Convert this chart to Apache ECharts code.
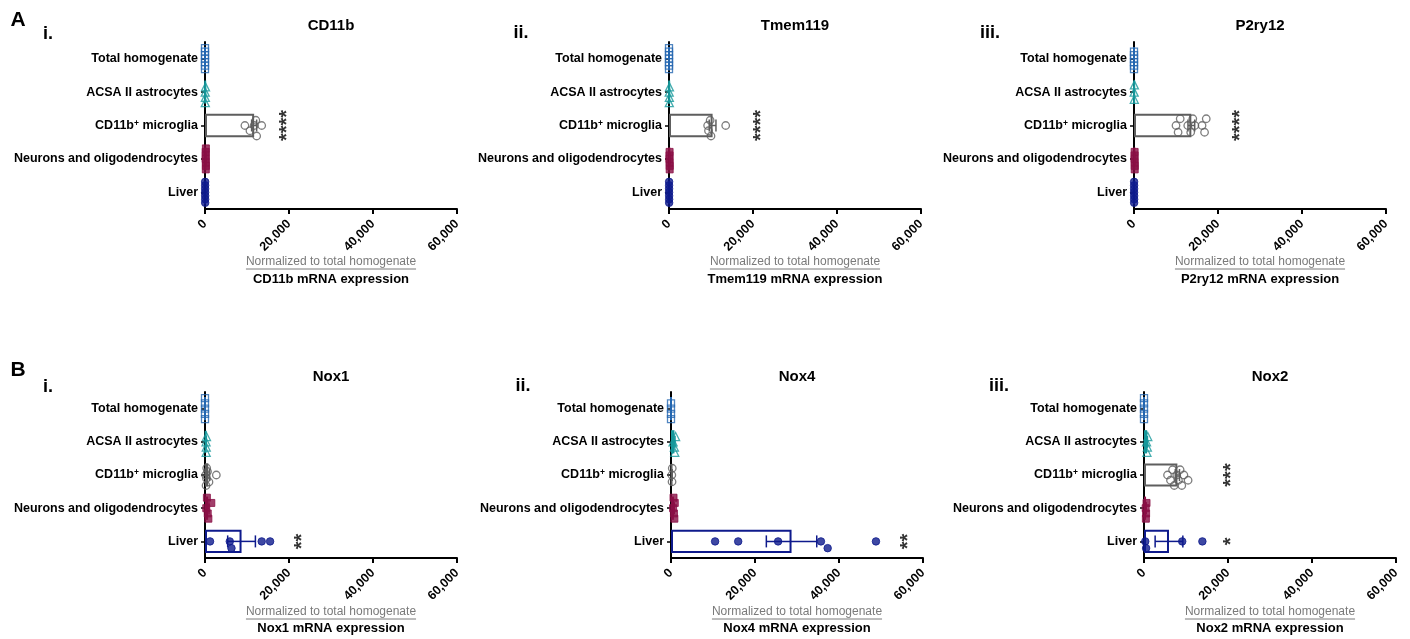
<!DOCTYPE html>
<html><head><meta charset="utf-8">
<script src="https://cdn.jsdelivr.net/npm/echarts@6/dist/echarts.min.js"></script>
<style>html,body{margin:0;padding:0;background:#fff}#c{width:1410px;height:639px}</style>
</head><body><div id="c"></div>
<script>
// ---------------- DATA ----------------
const categories = ['Total homogenate', 'ACSA II astrocytes', 'CD11b+ microglia', 'Neurons and oligodendrocytes', 'Liver'];
const xTicks = [0, 20000, 40000, 60000];
const sectionLetters = ['A', 'B'];
const panelTitles = ['CD11b', 'Tmem119', 'P2ry12', 'Nox1', 'Nox4', 'Nox2'];
const panelNumerals = ['i.', 'ii.', 'iii.', 'i.', 'ii.', 'iii.'];
const axisSubtitle = 'Normalized to total homogenate';
const axisNames = ['CD11b mRNA expression', 'Tmem119 mRNA expression', 'P2ry12 mRNA expression',
                   'Nox1 mRNA expression', 'Nox4 mRNA expression', 'Nox2 mRNA expression'];

// individual points per group (order = categories)
const cd11bPoints = [[1,1,1,1,1,1,1],[60,90,120,70],[9500,10700,11700,12100,12300,13500],[150,200,180,220,160,190,210],[30,40,35,45,38,42,36]];
const cd11bMeans = [1, 85, 11700, 190, 38];
const cd11bSems = [0, 15, 600, 10, 2];
const cd11bStars = ['', '', '****', '', ''];
const cd11bStarPos = [0, 0, 18300, 0, 0];

const tmem119Points = [[1,1,1,1,1,1,1],[50,80,110,70],[9200,9400,9800,10000,13500],[100,150,130,170,140,160],[20,30,25,35,28,32,26]];
const tmem119Means = [1, 78, 10380, 142, 28];
const tmem119Sems = [0, 12, 800, 10, 2];
const tmem119Stars = ['', '', '****', '', ''];
const tmem119StarPos = [0, 0, 20500, 0, 0];

const p2ry12Points = [[1,1,1,1,1,1],[40,70,90],[10000,10500,11000,12800,13500,14000,14500,16200,16800,17200],[120,160,140,180,150,170],[20,30,25,35,28,32,26]];
const p2ry12Means = [1, 67, 13650, 153, 28];
const p2ry12Sems = [0, 10, 800, 9, 2];
const p2ry12Stars = ['', '', '****', '', ''];
const p2ry12StarPos = [0, 0, 24000, 0, 0];

const nox1Points = [[1,1,1,1,1],[250,300,350,280],[150,350,600,950,2700,400,250],[300,650,1500,800,450],[1200,5900,6300,13500,15500]];
const nox1Means = [1, 295, 770, 740, 8700];
const nox1Sems = [0, 20, 330, 210, 3300];
const nox1Stars = ['', '', '', '', '**'];
const nox1StarPos = [0, 0, 0, 0, 21900];

const nox4Points = [[1,1,1,1],[500,800,1100,900],[200,250,300],[500,700,900,800,600],[10500,16000,25500,35700,37300,48800]];
const nox4Means = [1, 825, 250, 700, 28700];
const nox4Sems = [0, 130, 30, 70, 6000];
const nox4Stars = ['', '', '', '', '**'];
const nox4StarPos = [0, 0, 0, 0, 55000];

const nox2Points = [[1,1,1,1,1],[600,800,900,700],[5600,6300,6800,7200,7800,8200,8600,9000,9500,10500],[400,500,600,450],[300,500,9100,13900]];
const nox2Means = [1, 750, 7950, 490, 5950];
const nox2Sems = [0, 70, 500, 40, 3300];
const nox2Stars = ['', '', '***', '', '*'];
const nox2StarPos = [0, 0, 19500, 0, 19500];

// ---------------- STYLE / LAYOUT ----------------
const FONT = '"Liberation Sans", Arial, sans-serif';
const groupColors = ['#2467b0', '#16989b', '#5e5e5e', '#8a0f45', '#0e1a8c'];
const groupSymbols = ['rect', 'triangle', 'circle', 'rect', 'circle'];
const groupSizes = [7, 8, 7.5, 7, 7.5];
const groupFilled = [false, false, false, true, true];
const WIDTH = 252, XMAX = 60000;

const panels = [
  {points: cd11bPoints, means: cd11bMeans, sems: cd11bSems, stars: cd11bStars, starPos: cd11bStarPos, left: 205, top: 42, height: 167, numX: 48, numY: 34},
  {points: tmem119Points, means: tmem119Means, sems: tmem119Sems, stars: tmem119Stars, starPos: tmem119StarPos, left: 669, top: 42, height: 167, numX: 521, numY: 33},
  {points: p2ry12Points, means: p2ry12Means, sems: p2ry12Sems, stars: p2ry12Stars, starPos: p2ry12StarPos, left: 1134, top: 42, height: 167, numX: 990, numY: 33},
  {points: nox1Points, means: nox1Means, sems: nox1Sems, stars: nox1Stars, starPos: nox1StarPos, left: 205, top: 392, height: 166, numX: 48, numY: 387},
  {points: nox4Points, means: nox4Means, sems: nox4Sems, stars: nox4Stars, starPos: nox4StarPos, left: 671, top: 392, height: 166, numX: 523, numY: 386},
  {points: nox2Points, means: nox2Means, sems: nox2Sems, stars: nox2Stars, starPos: nox2StarPos, left: 1144, top: 392, height: 166, numX: 999, numY: 386}
];

function swarm(vals, size, half) {
  const k = WIDTH / XMAX, d = size * 0.9;
  const placed = [];
  const offs = vals.map(v => {
    const x = v * k;
    for (let j = 0; j < 40; j++) {
      const off = j === 0 ? 0 : (j % 2 ? 1 : -1) * Math.ceil(j / 2) * d;
      if (placed.every(p => (p.x - x) ** 2 + (p.y - off) ** 2 >= d * d - 0.01)) {
        placed.push({x, y: off}); return off;
      }
    }
    placed.push({x, y: 0}); return 0;
  });
  const m = Math.max(0, ...offs.map(Math.abs));
  const s = m > half ? half / m : 1;
  return offs.map(o => o * s);
}

const measureCtx = document.createElement('canvas').getContext('2d');
function textWidth(t, font) { measureCtx.font = font; return measureCtx.measureText(t).width; }

const grid = [], xAxis = [], yAxis = [], series = [], graphic = [];

panels.forEach((p, i) => {
  grid.push({left: p.left, top: p.top, width: WIDTH, height: p.height});
  xAxis.push({
    gridIndex: i, type: 'value', min: xTicks[0], max: xTicks[xTicks.length - 1], interval: xTicks[1] - xTicks[0],
    splitLine: {show: false},
    axisLine: {show: true, lineStyle: {color: '#000', width: 2}},
    axisTick: {show: true, length: 5, lineStyle: {color: '#000', width: 2}},
    axisLabel: {rotate: 45, margin: 13, color: '#000', fontFamily: FONT, fontWeight: 'bold', fontSize: 12.5,
      formatter: v => v.toLocaleString('en-US')}
  });
  yAxis.push({
    gridIndex: i, type: 'category', data: categories, inverse: true,
    axisLine: {show: true, lineStyle: {color: '#000', width: 2}},
    axisTick: {show: true, alignWithLabel: true, length: 4, lineStyle: {color: '#000', width: 1.5}},
    axisLabel: {margin: 7, color: '#000', fontFamily: FONT, fontWeight: 'bold', fontSize: 12.5,
      formatter: v => v.replace('+', '{sup|+}'),
      rich: {sup: {fontSize: 8.5, fontWeight: 'bold', fontFamily: FONT, color: '#000', verticalAlign: 'top', lineHeight: 12, padding: [0, 0, 5, 0]}}}
  });

  // bars (means)
  series.push({
    type: 'bar', xAxisIndex: i, yAxisIndex: i, barWidth: '70%', silent: true, z: 2,
    data: p.means.map((m, ci) => ({value: m, itemStyle: {color: 'rgba(255,255,255,0)', borderColor: groupColors[ci], borderWidth: 2}}))
  });

  // individual points
  const pts = [];
  p.points.forEach((vals, ci) => {
    const offs = swarm(vals, groupSizes[ci], 10.5);
    vals.forEach((v, k) => {
      pts.push({
        value: [v, ci], symbol: groupSymbols[ci], symbolSize: groupSizes[ci], symbolOffset: [0, offs[k]],
        itemStyle: groupFilled[ci]
          ? {color: groupColors[ci], borderColor: groupColors[ci], borderWidth: 1}
          : {color: 'rgba(255,255,255,0)', borderColor: groupColors[ci], borderWidth: 1.3}
      });
    });
  });
  series.push({type: 'scatter', xAxisIndex: i, yAxisIndex: i, data: pts, silent: true, z: 3});

  // error bars (mean ± SEM)
  series.push({
    type: 'custom', xAxisIndex: i, yAxisIndex: i, silent: true, z: 4,
    encode: {x: 1, y: 0},
    data: p.means.map((m, ci) => [ci, m, p.sems[ci]]),
    renderItem: (params, api) => {
      const ci = api.value(0), m = api.value(1), s = api.value(2);
      const a = api.coord([Math.max(0, m - s), ci]), b = api.coord([m + s, ci]);
      const col = groupColors[ci], h = 6, st = {stroke: col, lineWidth: 1.5};
      return {type: 'group', children: [
        {type: 'line', shape: {x1: a[0], y1: a[1], x2: b[0], y2: b[1]}, style: st},
        {type: 'line', shape: {x1: a[0], y1: a[1] - h, x2: a[0], y2: a[1] + h}, style: st},
        {type: 'line', shape: {x1: b[0], y1: b[1] - h, x2: b[0], y2: b[1] + h}, style: st}
      ]};
    }
  });

  // significance stars
  const starData = [];
  p.stars.forEach((t, ci) => { if (t) starData.push({value: [p.starPos[ci], ci], text: t}); });
  series.push({
    type: 'scatter', xAxisIndex: i, yAxisIndex: i, silent: true, symbolSize: 1, z: 5,
    itemStyle: {color: 'rgba(0,0,0,0)'},
    label: {show: true, position: 'inside', rotate: 90, offset: [0, 6], formatter: q => q.data.text,
      color: '#000', fontFamily: FONT, fontWeight: 'bold', fontSize: 20},
    data: starData
  });

  // texts
  const cx = p.left + WIDTH / 2;
  const rowB = i >= 3;
  graphic.push({type: 'text', silent: true, style: {text: panelTitles[i], x: cx, y: rowB ? 377 : 26,
    textAlign: 'center', textVerticalAlign: 'middle', align: 'center', verticalAlign: 'middle',
    font: 'bold 15px ' + FONT, fill: '#000'}});
  graphic.push({type: 'text', silent: true, style: {text: panelNumerals[i], x: p.numX, y: p.numY,
    textAlign: 'center', textVerticalAlign: 'middle', align: 'center', verticalAlign: 'middle',
    font: 'bold 18px ' + FONT, fill: '#000'}});
  const subY = rowB ? 612 : 262, nameY = rowB ? 628 : 279;
  const subFont = '12px ' + FONT;
  graphic.push({type: 'text', silent: true, style: {text: axisSubtitle, x: cx, y: subY,
    textAlign: 'center', textVerticalAlign: 'middle', align: 'center', verticalAlign: 'middle',
    font: subFont, fill: '#7a7a7a'}});
  const w = textWidth(axisSubtitle, subFont);
  graphic.push({type: 'line', silent: true, shape: {x1: cx - w / 2, y1: subY + 7, x2: cx + w / 2, y2: subY + 7},
    style: {stroke: '#7a7a7a', lineWidth: 1}});
  graphic.push({type: 'text', silent: true, style: {text: axisNames[i], x: cx, y: nameY,
    textAlign: 'center', textVerticalAlign: 'middle', align: 'center', verticalAlign: 'middle',
    font: 'bold 13px ' + FONT, fill: '#000'}});
});

graphic.push({type: 'text', silent: true, style: {text: sectionLetters[0], x: 18, y: 20,
  textAlign: 'center', textVerticalAlign: 'middle', align: 'center', verticalAlign: 'middle', font: 'bold 21px ' + FONT, fill: '#000'}});
graphic.push({type: 'text', silent: true, style: {text: sectionLetters[1], x: 18, y: 370,
  textAlign: 'center', textVerticalAlign: 'middle', align: 'center', verticalAlign: 'middle', font: 'bold 21px ' + FONT, fill: '#000'}});

const chart = echarts.init(document.getElementById('c'), null, {renderer: 'canvas'});
chart.setOption({animation: false, backgroundColor: '#fff', grid, xAxis, yAxis, series, graphic});
</script></body></html>
